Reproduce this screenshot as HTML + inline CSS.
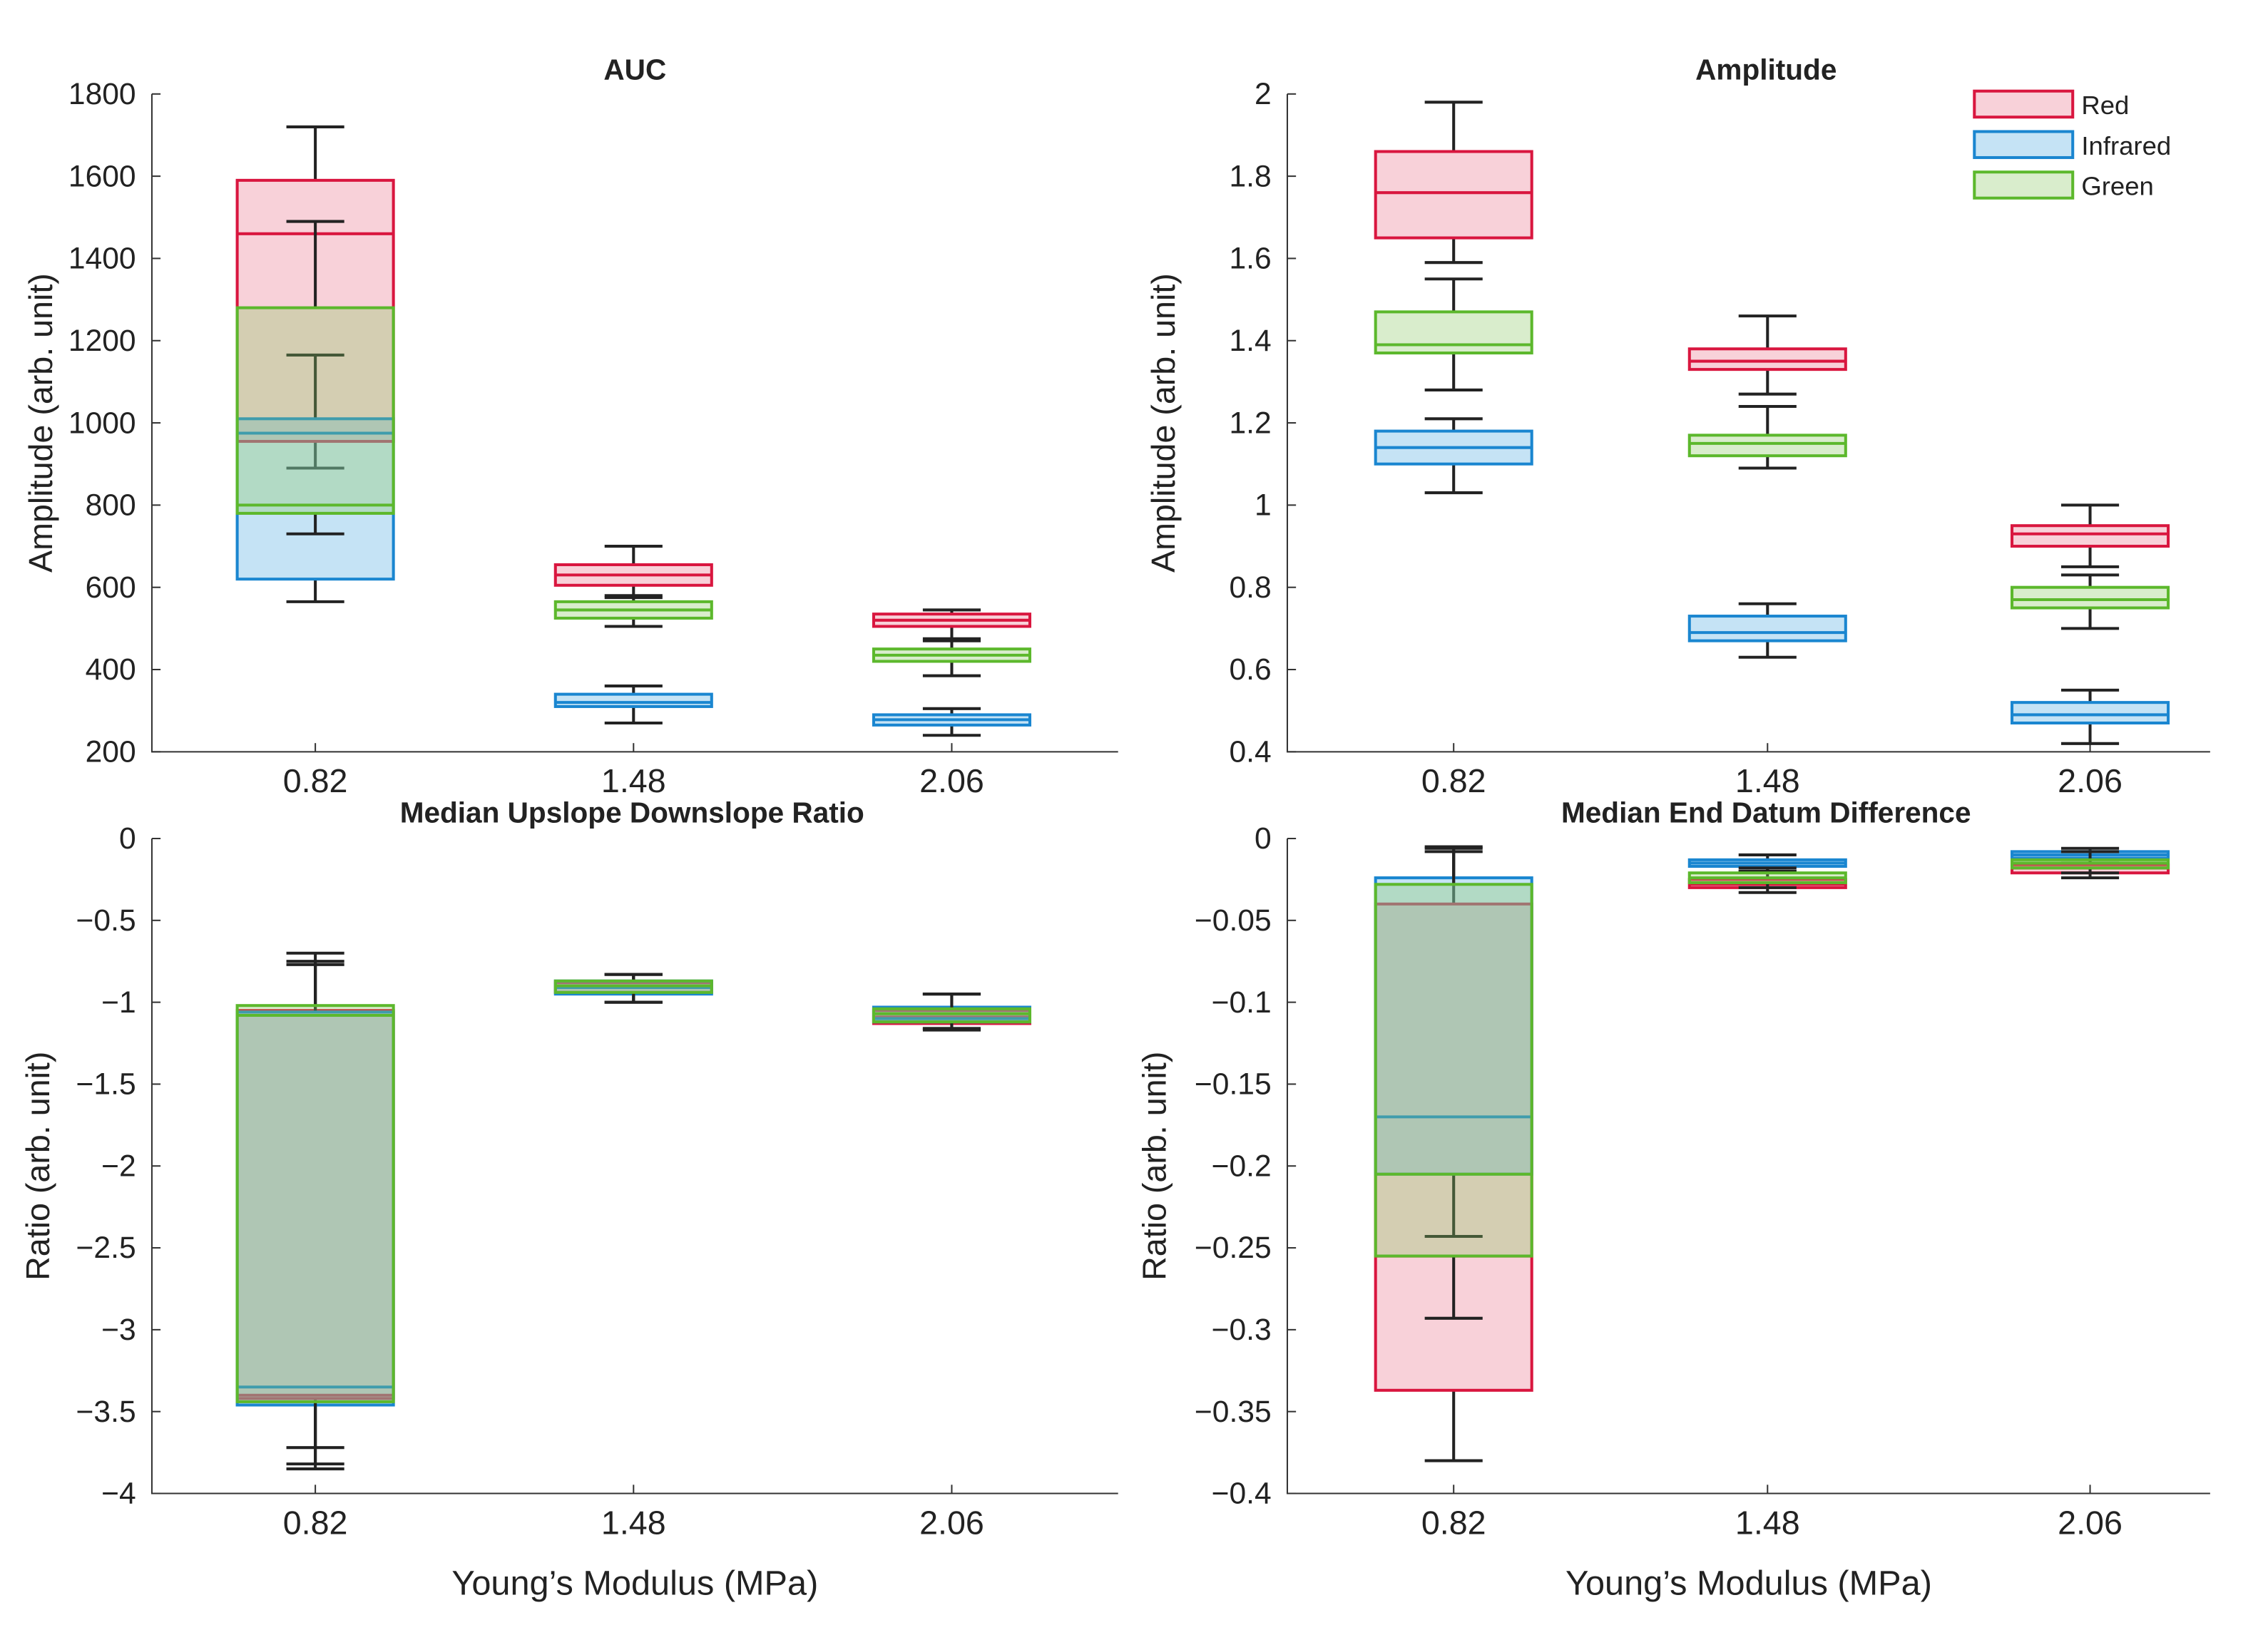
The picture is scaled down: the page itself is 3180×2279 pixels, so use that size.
<!DOCTYPE html>
<html><head><meta charset="utf-8"><style>
html,body{margin:0;padding:0;background:#fff;}
svg{display:block;}
text{font-family:"Liberation Sans",Arial,sans-serif;fill:#222;}
</style></head>
<body>
<svg id="chart" width="3180" height="2279" viewBox="0 0 1568 1124" preserveAspectRatio="none" xmlns="http://www.w3.org/2000/svg"></svg>
<script>
// ---- data ----
const categories = ["0.82","1.48","2.06"];
const seriesNames = ["Red","Infrared","Green"];
// each box: [whiskerLow, q1, median, q3, whiskerHigh] per category
const aucRed   = [[890,955,1460,1590,1720],[580,605,630,655,700],[475,505,520,535,545]];
const aucIR    = [[565,620,975,1010,1165],[270,310,320,340,360],[240,265,278,290,305]];
const aucGreen = [[730,780,800,1280,1490],[505,525,545,565,575],[385,420,435,450,470]];
const ampRed   = [[1.59,1.65,1.76,1.86,1.98],[1.27,1.33,1.35,1.38,1.46],[0.85,0.90,0.93,0.95,1.0]];
const ampIR    = [[1.03,1.10,1.14,1.18,1.21],[0.63,0.67,0.69,0.73,0.76],[0.42,0.47,0.49,0.52,0.55]];
const ampGreen = [[1.28,1.37,1.39,1.47,1.55],[1.09,1.12,1.15,1.17,1.24],[0.70,0.75,0.77,0.80,0.83]];
const udrRed   = [[-3.85,-3.42,-3.40,-1.05,-0.75],[-1.0,-0.94,-0.90,-0.88,-0.83],[-1.17,-1.13,-1.09,-1.05,-0.95]];
const udrIR    = [[-3.72,-3.46,-3.35,-1.06,-0.77],[-1.0,-0.95,-0.91,-0.87,-0.83],[-1.16,-1.12,-1.10,-1.03,-0.95]];
const udrGreen = [[-3.82,-3.44,-1.08,-1.02,-0.70],[-1.0,-0.94,-0.90,-0.87,-0.83],[-1.16,-1.12,-1.07,-1.04,-0.95]];
const edRed    = [[-0.38,-0.337,-0.255,-0.04,-0.006],[-0.033,-0.030,-0.028,-0.025,-0.020],[-0.024,-0.021,-0.018,-0.016,-0.010]];
const edIR     = [[-0.243,-0.205,-0.17,-0.024,-0.008],[-0.020,-0.017,-0.015,-0.013,-0.010],[-0.015,-0.012,-0.010,-0.008,-0.006]];
const edGreen  = [[-0.293,-0.255,-0.205,-0.028,-0.005],[-0.030,-0.027,-0.024,-0.021,-0.018],[-0.021,-0.018,-0.015,-0.013,-0.008]];
const aucTicks = [200,400,600,800,1000,1200,1400,1600,1800];
const ampTicks = [0.4,0.6,0.8,1,1.2,1.4,1.6,1.8,2];
const udrTicks = [-4,-3.5,-3,-2.5,-2,-1.5,-1,-0.5,0];
const edTicks  = [-0.4,-0.35,-0.3,-0.25,-0.2,-0.15,-0.1,-0.05,0];

const colors = {Red:["#d9163f","rgba(230,90,120,0.28)"],Infrared:["#1a86d0","rgba(90,175,225,0.35)"],Green:["#5cb82c","rgba(140,200,100,0.33)"]};
const svg = document.getElementById('chart');
const NS = "http://www.w3.org/2000/svg";
function mk(tag, attrs, parent){const e=document.createElementNS(NS,tag);for(const k in attrs)e.setAttribute(k,attrs[k]);(parent||svg).appendChild(e);return e;}
function fmt(v){return String(v).replace('-','\u2212');}

const panels = [
 {name:"auc",title:"AUC",x0:105,x1:773,y0:520,y1:65,ticks:aucTicks,ylab:"Amplitude (arb. unit)",ylx:28,cx:[218,438,658],data:[aucRed,aucIR,aucGreen],ty:55,tx:439,xlab:false},
 {name:"amplitude",title:"Amplitude",x0:890,x1:1528,y0:520,y1:65,ticks:ampTicks,ylab:"Amplitude (arb. unit)",ylx:804,cx:[1005,1222,1445],data:[ampRed,ampIR,ampGreen],ty:55,tx:1221,xlab:false},
 {name:"upslope-ratio",title:"Median Upslope Downslope Ratio",x0:105,x1:773,y0:1033,y1:580,ticks:udrTicks,ylab:"Ratio (arb. unit)",ylx:26,cx:[218,438,658],data:[udrRed,udrIR,udrGreen],ty:569,tx:437,xlab:true},
 {name:"end-datum",title:"Median End Datum Difference",x0:890,x1:1528,y0:1033,y1:580,ticks:edTicks,ylab:"Ratio (arb. unit)",ylx:798,cx:[1005,1222,1445],data:[edRed,edIR,edGreen],ty:569,tx:1221,xlab:true}
];
const HW = 54;
panels.forEach(p=>{
  const g = mk('g',{});
  
  
  const lo=p.ticks[0], hi=p.ticks[p.ticks.length-1];
  const y = v => p.y0 + (v-lo)/(hi-lo)*(p.y1-p.y0);
  const ax = mk('path',{d:`M${p.x0},${p.y1}V${p.y0}H${p.x1}`,stroke:"#333",fill:"none","stroke-width":1},g);
  
  
  p.ticks.forEach(t=>{
    mk('line',{x1:p.x0,x2:p.x0+6,y1:y(t),y2:y(t),stroke:"#333"},g);
    const tl = mk('text',{x:p.x0-11,y:y(t)+7,"text-anchor":"end","font-size":21},g);
    tl.textContent = fmt(t);
    
    
  });
  categories.forEach((c,i)=>{
    mk('line',{x1:p.cx[i],x2:p.cx[i],y1:p.y0,y2:p.y0-6,stroke:"#333"},g);
    const xl = mk('text',{x:p.cx[i],y:p.y0+28,"text-anchor":"middle","font-size":23},g);
    xl.textContent = c;
    
    
  });
  const tt = mk('text',{x:p.tx,y:p.ty,"text-anchor":"middle","font-size":20,"font-weight":"bold"},g);
  tt.textContent = p.title;
  
  
  const yl = mk('text',{x:p.ylx,y:(p.y0+p.y1)/2,"text-anchor":"middle","font-size":23,transform:`rotate(-90 ${p.ylx} ${(p.y0+p.y1)/2})`,dy:8},g);
  yl.textContent = p.ylab;
  
  
  if(p.xlab){
    const xt = mk('text',{x:(p.x0+p.x1)/2,y:1103,"text-anchor":"middle","font-size":24},g);
    xt.textContent = "Young\u2019s Modulus (MPa)";
    
    
  }
  p.data.forEach((series,si)=>{
    const [stroke,fill]=colors[seriesNames[si]];
    series.forEach((b,ci)=>{
      const cx=p.cx[ci];
      const bg = mk('g',{},g);
      
      
      mk('line',{x1:cx,x2:cx,y1:y(b[0]),y2:y(b[1]),stroke:"#222","stroke-width":2},bg);
      mk('line',{x1:cx,x2:cx,y1:y(b[3]),y2:y(b[4]),stroke:"#222","stroke-width":2},bg);
      mk('line',{x1:cx-20,x2:cx+20,y1:y(b[0]),y2:y(b[0]),stroke:"#222","stroke-width":2},bg);
      mk('line',{x1:cx-20,x2:cx+20,y1:y(b[4]),y2:y(b[4]),stroke:"#222","stroke-width":2},bg);
      mk('rect',{x:cx-HW,width:2*HW,y:y(b[3]),height:Math.max(1,y(b[1])-y(b[3])),fill:fill,stroke:stroke,"stroke-width":2},bg);
      mk('line',{x1:cx-HW,x2:cx+HW,y1:y(b[2]),y2:y(b[2]),stroke:stroke,"stroke-width":2},bg);
    });
  });
});
const lg = mk('g',{});


seriesNames.forEach((n,i)=>{
  const e = mk('g',{},lg);
  
  
  const yy = 63+i*28;
  mk('rect',{x:1365,y:yy,width:68,height:18,fill:colors[n][1],stroke:colors[n][0],"stroke-width":2},e);
  const t = mk('text',{x:1439,y:yy+16,"font-size":18},e);
  t.textContent = n;
});
</script>
</body></html>
